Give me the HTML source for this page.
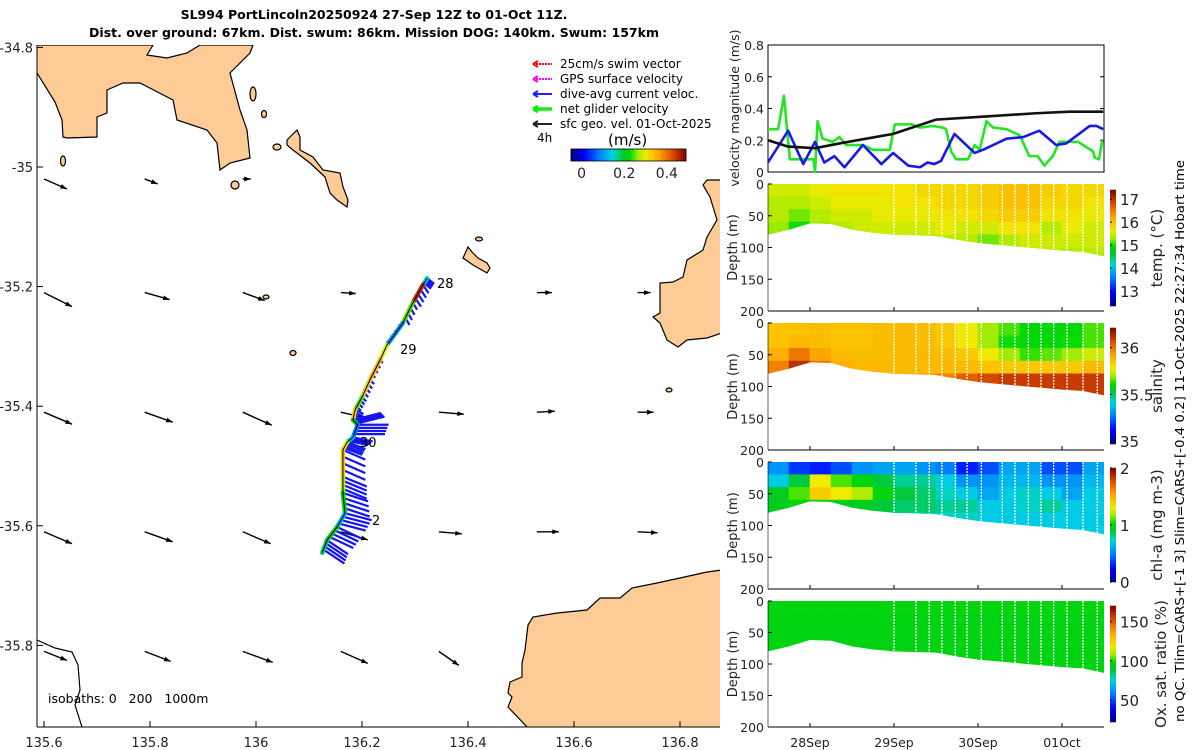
<!DOCTYPE html>
<html><head><meta charset="utf-8"><style>
html,body{margin:0;padding:0;background:#fff}
svg{display:block;font-family:"DejaVu Sans","Liberation Sans",sans-serif}
</style></head><body>
<svg id="fig" width="1200" height="750" viewBox="0 0 1200 750">
<g font-weight="bold" font-size="12.5" text-anchor="middle" fill="#000">
<text x="374" y="19">SL994 PortLincoln20250924 27-Sep 12Z to 01-Oct 11Z.</text>
<text x="374" y="37">Dist. over ground: 67km. Dist. swum: 86km. Mission DOG: 140km. Swum: 157km</text>
</g>
<defs><clipPath id="mapclip"><rect x="37" y="45" width="683" height="682"/></clipPath></defs>
<g id="map" clip-path="url(#mapclip)">
<g fill="#fccb96" stroke="#000" stroke-width="1.2">
<polygon points="30,45 153,45 147,55 167,58 187,53 200,45 253,45 250,53 230,73 240,110 247,130 250,158 230,163 220,170 217,143 207,130 177,120 173,100 140,83 123,83 107,90 107,113 97,117 97,137 67,138 63,137 62,120 55,102 37,73 30,65"/>
<polygon points="287,140 297,130 300,137 300,150 313,157 323,170 340,173 343,187 348,200 347,207 337,200 330,193 325,177 310,163 293,150 287,145"/>
<ellipse cx="253" cy="94" rx="3" ry="7"/>
<ellipse cx="264" cy="114" rx="2.5" ry="3.5"/>
<ellipse cx="277" cy="147" rx="4" ry="3"/>
<ellipse cx="63" cy="161" rx="2.5" ry="5"/>
<ellipse cx="235" cy="185" rx="4" ry="4"/>
<polygon points="468,247 463,258 473,265 487,273 490,268 487,263 478,258 472,252"/>
<ellipse cx="479" cy="239" rx="3.5" ry="2"/>
<ellipse cx="293" cy="353" rx="3" ry="2.5"/>
<ellipse cx="266" cy="297" rx="3" ry="2"/>
<polygon points="707,180 703,185 710,197 717,220 707,237 703,250 687,260 683,277 673,282 660,283 660,313 653,317 660,323 667,340 678,347 687,340 707,338 722,333 722,180"/>
<polygon points="530,730 508,707 512,697 508,693 510,682 522,677 522,663 525,650 528,625 533,617 557,613 587,610 600,598 620,598 632,588 657,583 680,578 707,572 722,570 722,730"/>
<ellipse cx="669" cy="390" rx="3" ry="2"/>
</g>
<polyline points="37,640 55,648 72,652 78,665 80,690 75,705 82,727" fill="none" stroke="#000" stroke-width="1.2"/>
<g id="arrows"></g>
<g id="track"></g>
<g font-size="13" fill="#000">
<text x="437" y="288">28</text>
<text x="400" y="354">29</text>
<text x="360" y="447">30</text>
<text x="372" y="525">2</text>
</g>
</g>
<g stroke="#000" fill="none">
<line x1="37" y1="45" x2="37" y2="727"/>
<line x1="37" y1="727" x2="720" y2="727"/>
</g>
<g id="mapticks" font-size="13" fill="#222"></g>
<text x="48" y="703" font-size="12.5" fill="#000" xml:space="preserve">isobaths: 0   200   1000m</text>
<g font-size="12" fill="#000">
<g stroke-width="2" fill="none">
<line x1="533" y1="64" x2="552" y2="64" stroke="#f00" stroke-dasharray="2,1"/>
<path d="M533,64 l5,-3 M533,64 l5,3" stroke="#f00"/>
<line x1="533" y1="79" x2="552" y2="79" stroke="#f0f" stroke-dasharray="2,1"/>
<path d="M533,79 l5,-3 M533,79 l5,3" stroke="#f0f"/>
<line x1="533" y1="94" x2="552" y2="94" stroke="#22f"/>
<path d="M533,94 l5,-3 M533,94 l5,3" stroke="#22f"/>
<line x1="533" y1="109" x2="552" y2="109" stroke="#1e1" stroke-width="3.5"/>
<path d="M533,109 l5,-3 M533,109 l5,3" stroke="#1e1" stroke-width="3"/>
<line x1="533" y1="124" x2="552" y2="124" stroke="#222"/>
<path d="M533,124 l5,-3 M533,124 l5,3" stroke="#222"/>
</g>
<text x="560" y="68">25cm/s swim vector</text>
<text x="560" y="83">GPS surface velocity</text>
<text x="560" y="98">dive-avg current veloc.</text>
<text x="560" y="113">net glider velocity</text>
<text x="560" y="128">sfc geo. vel. 01-Oct-2025</text>
<text x="537" y="142">4h</text>
<text x="608" y="145" font-size="15">(m/s)</text>
</g>
<g id="speedcb"></g>
<g id="right"></g>
<text transform="translate(1184,441) rotate(-90)" text-anchor="middle" font-size="12" textLength="562" lengthAdjust="spacingAndGlyphs" fill="#000">no QC. Tlim=CARS+[-1 3] Slim=CARS+[-0.4 0.2] 11-Oct-2025 22:27:34 Hobart time</text>
</svg>
<script>
// ---------- data ----------
const gridLons = [135.6, 135.79, 135.975, 136.16, 136.345, 136.53, 136.72];
const gridLats = [-35.02, -35.21, -35.41, -35.61, -35.81];
const geoU = [
 [0.23,0.13,0.08,null,null,null,null],
 [0.28,0.25,0.22,0.15,null,0.15,0.13],
 [0.28,0.28,0.29,0.26,0.25,0.18,0.16],
 [0.28,0.28,0.28,0.27,0.23,0.22,0.2],
 [0.23,0.26,0.3,0.27,0.2,null,null]];
const geoV = [
 [-0.1,-0.05,0,null,null,null,null],
 [-0.14,-0.07,-0.08,-0.01,null,0,0],
 [-0.12,-0.1,-0.13,-0.06,-0.02,0.01,0],
 [-0.12,-0.1,-0.12,-0.08,-0.02,0,-0.01],
 [-0.09,-0.1,-0.11,-0.12,-0.14,null,null]];
const trackLon = [136.323,136.315,136.296,136.277,136.247,136.234,136.215,136.2,136.187,136.183,136.192,136.183,136.172,136.164,136.164,136.164,136.168,136.153,136.134,136.125];
const trackLat = [-35.186,-35.197,-35.227,-35.261,-35.298,-35.323,-35.356,-35.385,-35.406,-35.423,-35.431,-35.452,-35.46,-35.473,-35.518,-35.545,-35.579,-35.602,-35.624,-35.645];
const trackSpeed = [0.15,0.45,0.25,0.1,0.3,0.35,0.33,0.25,0.33,0.2,0.08,0.15,0.3,0.33,0.28,0.22,0.12,0.22,0.18,0.2];
const dacU = [0.05,0.04,0.03,-0.03,-0.02,0.02,0.03,0.03,0.06,0.2,0.22,0.14,0.13,0.16,0.17,0.18,0.19,0.17,0.15,0.06];
const dacV = [-0.04,-0.06,-0.05,-0.02,-0.02,-0.02,-0.03,-0.03,-0.03,0.05,0.0,-0.03,-0.05,-0.07,-0.07,-0.06,-0.05,-0.08,-0.1,-0.1];
const lonTicks = [135.6,135.8,136,136.2,136.4,136.6,136.8];
const lonTickLabels = ["135.6","135.8","136","136.2","136.4","136.6","136.8"];
const latTicks = [-34.8,-35,-35.2,-35.4,-35.6,-35.8];
const latTickLabels = ["-34.8","-35","-35.2","-35.4","-35.6","-35.8"];
const greenT = [0,0.12,0.19,0.26,0.54,0.56,0.59,0.65,0.77,0.85,0.93,1.13,1.25,1.45,1.51,1.71,1.81,1.96,2.08,2.12,2.18,2.24,2.38,2.46,2.52,2.6,2.68,2.84,3.0,3.11,3.21,3.29,3.39,3.47,3.69,3.87,3.89,3.94,3.98];
const greenV = [0.27,0.27,0.48,0.08,0.08,0.0,0.32,0.21,0.19,0.22,0.17,0.17,0.14,0.14,0.3,0.3,0.28,0.29,0.28,0.27,0.13,0.08,0.08,0.17,0.14,0.32,0.28,0.27,0.23,0.1,0.1,0.04,0.1,0.19,0.19,0.13,0.09,0.08,0.2];
const blueT = [0,0.24,0.42,0.56,0.67,0.79,0.91,1.13,1.35,1.49,1.67,1.81,1.9,1.98,2.06,2.22,2.46,2.56,2.84,3.04,3.23,3.43,3.55,3.83,3.91,3.99];
const blueV = [0.06,0.26,0.05,0.19,0.06,0.1,0.03,0.17,0.05,0.12,0.04,0.03,0.06,0.05,0.07,0.24,0.12,0.14,0.21,0.22,0.26,0.17,0.18,0.29,0.29,0.27];
const blackT = [0,0.24,0.56,0.85,1.49,2.0,2.6,3.19,3.59,3.99];
const blackV = [0.2,0.16,0.15,0.18,0.24,0.33,0.35,0.37,0.38,0.38];
const velTicks = [0,0.2,0.4,0.6,0.8];
const velTickLabels = ["0","0.2","0.4","0.6","0.8"];
const dayTicks = [0.5,1.5,2.5,3.5];
const dayTickLabels = ["28Sep","29Sep","30Sep","01Oct"];
const depthTicks = [0,50,100,150,200];
const depthTickLabels = ["0","50","100","150","200"];
const bottomT = [0,0.25,0.5,0.75,1,1.25,1.5,1.75,2,2.25,2.5,2.75,3,3.25,3.5,3.75,4];
const bottomDepth = [80,72,62,63,72,77,80,81,82,88,93,96,99,102,105,107,114];
const gapTimes = [1.5,1.76,1.92,2.07,2.23,2.37,2.54,2.79,2.94,3.1,3.25,3.4,3.56,3.75,3.92];
const tempGrid = [
 [15.5,15.5,15.6,15.7,15.7,15.7,15.7,15.8,15.8,15.8,15.9,16.0,16.0,15.9,15.8,15.8],
 [15.4,15.4,15.5,15.6,15.6,15.6,15.7,15.7,15.8,15.8,15.9,16.0,16.0,15.8,15.8,15.7],
 [15.4,15.2,15.4,15.5,15.5,15.6,15.6,15.6,15.7,15.7,15.8,15.9,15.9,15.7,15.7,15.6],
 [15.3,15.0,15.3,15.4,15.5,15.5,15.5,15.5,15.6,15.5,15.5,15.7,15.7,15.4,15.6,15.5],
 [15.3,15.2,15.3,15.4,15.4,15.4,15.4,15.4,15.4,15.4,15.2,15.4,15.5,15.5,15.5,15.5],
 [15.4,15.4,15.4,15.4,15.4,15.4,15.4,15.4,15.4,15.4,15.4,15.4,15.4,15.4,15.4,15.4]];
const salGrid = [
 [35.86,35.86,35.87,35.86,35.86,35.87,35.88,35.87,35.85,35.78,35.7,35.65,35.6,35.6,35.6,35.65],
 [35.86,35.88,35.87,35.86,35.86,35.87,35.88,35.87,35.85,35.78,35.7,35.62,35.6,35.6,35.62,35.65],
 [35.9,36.0,35.92,35.88,35.87,35.87,35.88,35.88,35.87,35.85,35.78,35.7,35.64,35.66,35.7,35.74],
 [35.98,36.12,36.0,35.9,35.88,35.88,35.88,35.88,35.88,35.88,35.86,35.85,35.85,35.85,35.85,35.88],
 [35.95,36.02,35.98,35.92,35.9,35.9,35.9,35.92,35.98,36.04,36.08,36.1,36.1,36.1,36.1,36.1],
 [36.1,36.1,36.1,36.1,36.1,36.1,36.1,36.1,36.1,36.1,36.1,36.1,36.1,36.1,36.1,36.1]];
const chlGrid = [
 [0.55,0.35,0.3,0.4,0.55,0.6,0.6,0.55,0.5,0.3,0.4,0.6,0.6,0.4,0.4,0.6],
 [0.7,0.9,1.3,1.1,1.0,0.9,0.8,0.8,0.7,0.55,0.55,0.65,0.65,0.55,0.55,0.65],
 [0.95,1.1,1.4,1.3,1.2,1.0,0.9,0.85,0.75,0.7,0.6,0.7,0.75,0.7,0.6,0.7],
 [0.95,1.0,1.0,0.95,0.95,0.9,0.85,0.85,0.8,0.8,0.7,0.7,0.75,0.8,0.7,0.7],
 [0.9,0.9,0.9,0.9,0.9,0.85,0.8,0.8,0.75,0.75,0.7,0.7,0.7,0.7,0.7,0.7],
 [0.7,0.7,0.7,0.7,0.7,0.7,0.7,0.7,0.7,0.7,0.7,0.7,0.7,0.7,0.7,0.7]];
const oxGrid = [
 [96,96,96,96,96,96,96,96,96,96,96,96,96,96,96,96],
 [95,95,95,95,95,95,95,95,95,95,95,95,95,95,95,95],
 [95,95,95,95,95,95,95,95,95,95,95,95,95,95,95,95],
 [95,95,95,95,95,95,95,95,95,95,95,95,95,95,95,95],
 [95,95,95,95,95,95,95,95,95,95,95,95,95,95,95,95],
 [95,95,95,95,95,95,95,95,95,95,95,95,95,95,95,95]];
const tempCbTicks = [13,14,15,16,17];
const salCbTicks = [35,35.5,36];
const chlCbTicks = [0,1,2];
const oxCbTicks = [50,100,150];
const speedCbTicks = [0,0.2,0.4];

// ---------- helpers ----------
const NS = "http://www.w3.org/2000/svg";
function mk(tag, attrs, parent){const e=document.createElementNS(NS,tag);for(const k in attrs)e.setAttribute(k,attrs[k]);parent.appendChild(e);return e;}
const stops=[[0,[0,0,128]],[0.12,[0,0,255]],[0.25,[0,128,255]],[0.36,[0,210,225]],[0.46,[0,200,40]],[0.52,[0,220,0]],[0.58,[150,235,0]],[0.65,[240,235,0]],[0.76,[255,170,0]],[0.88,[225,80,0]],[1,[128,0,0]]];
function cmap(f){f=Math.max(0,Math.min(1,f));for(let i=1;i<stops.length;i++){if(f<=stops[i][0]){const a=stops[i-1],b=stops[i];const r=(f-a[0])/(b[0]-a[0]);const c=a[1].map((v,k)=>Math.round(v+(b[1][k]-v)*r));return `rgb(${c[0]},${c[1]},${c[2]})`;}}return "rgb(128,0,0)";}
const lonX = lon => 256 + (lon-136)*530;
const latY = lat => 167 + (-35-lat)*598;

const mt=document.getElementById('mapticks');
lonTicks.forEach((v,i)=>{const x=lonX(v);
 const l=mk('line',{x1:x,y1:727,x2:x,y2:721,stroke:'#000'},mt);
 
 
 const t=mk('text',{x:x,y:747,'text-anchor':'middle'},mt);t.textContent=lonTickLabels[i];
 
 });
latTicks.forEach((v,i)=>{const y=latY(v);
 const l=mk('line',{x1:37,y1:y,x2:43,y2:y,stroke:'#000'},mt);
 
 
 const t=mk('text',{x:33,y:y+5,'text-anchor':'end'},mt);t.textContent=latTickLabels[i];
 
 });

const ag=document.getElementById('arrows');
const geoScale=100;
gridLats.forEach((lat,r)=>gridLons.forEach((lon,c)=>{
 const u=geoU[r][c],v=geoV[r][c]; if(u===null)return;
 const x0=lonX(lon),y0=latY(lat),x1=x0+u*geoScale,y1=y0-v*geoScale;
 const ang=Math.atan2(y1-y0,x1-x0),h=7;
 const g=mk('g',{},ag);
 
 
 mk('line',{x1:x0,y1:y0,x2:x1,y2:y1,stroke:'#000','stroke-width':1.4},g);
 mk('polygon',{points:`${x1},${y1} ${x1-h*Math.cos(ang-0.35)},${y1-h*Math.sin(ang-0.35)} ${x1-h*Math.cos(ang+0.35)},${y1-h*Math.sin(ang+0.35)}`,fill:'#000'},g);
}));

const tg=document.getElementById('track');
const dacScale=140;
for(let i=0;i<trackLon.length-1;i++){
 for(let k=0;k<4;k++){
  const f=k/4;const x=lonX(trackLon[i]+(trackLon[i+1]-trackLon[i])*f),y=latY(trackLat[i]+(trackLat[i+1]-trackLat[i])*f);
  const l=mk('line',{x1:x,y1:y,x2:x+dacU[i]*dacScale,y2:y-dacV[i]*dacScale,stroke:'#1414f0','stroke-width':2.2},tg);
  
  
 }
}
for(let i=0;i<trackLon.length-1;i++){
 const s=mk('line',{x1:lonX(trackLon[i]),y1:latY(trackLat[i]),x2:lonX(trackLon[i+1]),y2:latY(trackLat[i+1]),stroke:cmap((trackSpeed[i]+0.05)/0.54),'stroke-width':4.5,'stroke-linecap':'round'},tg);
 
 
}
const tl=mk('polyline',{points:trackLon.map((v,i)=>lonX(v)+','+latY(trackLat[i])).join(' '),fill:'none',stroke:'#000','stroke-width':1},tg);



function vbar(parent,name,x,y0,y1,vmin,vmax,ticks,fmt){
 const g=mk('g',{},parent);
 
 
 const n=40,h=(y1-y0)/n;
 for(let i=0;i<n;i++) mk('rect',{x:x,y:y1-(i+1)*h-0.3,width:6,height:h+0.6,fill:cmap((i+0.5)/n)},g);
 ticks.forEach(t=>{const y=y1-(t-vmin)/(vmax-vmin)*(y1-y0);
  mk('line',{x1:x,y1:y,x2:x+2,y2:y,stroke:'#000'},g);
  const tx=mk('text',{x:x+10,y:y+6,'font-size':15,fill:'#222'},g);tx.textContent=fmt(t);
  
  });
}
(function(){const g=document.getElementById('speedcb');const x0=571,x1=686,n=40,w=(x1-x0)/n;
 for(let i=0;i<n;i++) mk('rect',{x:x0+i*w-0.3,y:149,width:w+0.6,height:12,fill:cmap((i+0.5)/n)},g);
 mk('rect',{x:x0,y:149,width:x1-x0,height:12,fill:'none',stroke:'#000','stroke-width':0.8},g);
 speedCbTicks.forEach(t=>{const x=x0+(t+0.05)/0.54*(x1-x0);
  const tx=mk('text',{x:x,y:178,'font-size':14,'text-anchor':'middle',fill:'#222'},g);tx.textContent=String(t);
  
  });})();

const R=document.getElementById('right');
const PX0=768,PX1=1104;
const tX=t=>PX0+t/4*(PX1-PX0);
(function(){const y0=45,y1=172;const vY=v=>y1-v/0.8*(y1-y0);
 const g=mk('g',{},R);
 
 
 mk('rect',{x:PX0,y:y0,width:PX1-PX0,height:y1-y0,fill:'#fff',stroke:'#000'},g);
 velTicks.forEach((v,i)=>{const y=vY(v);mk('line',{x1:PX0,y1:y,x2:PX0+4,y2:y,stroke:'#000'},g);mk('line',{x1:PX1,y1:y,x2:PX1-4,y2:y,stroke:'#000'},g);
  const tx=mk('text',{x:764,y:y+5,'text-anchor':'end','font-size':12.5,fill:'#222'},g);tx.textContent=velTickLabels[i];
  
  });
 const ser=[[greenT,greenV,'#22e622','green-net-speed'],[blueT,blueV,'#1a1ae6','blue-dac-speed'],[blackT,blackV,'#111','black-geo-speed']];
 ser.forEach(s=>{const p=mk('polyline',{points:s[0].map((t,i)=>tX(t)+','+vY(s[1][i])).join(' '),fill:'none',stroke:s[2],'stroke-width':2.6,'stroke-linejoin':'round'},g);
  
  });
 const yl=mk('text',{transform:'translate(739,108) rotate(-90)','text-anchor':'middle','font-size':12.5,fill:'#222'},g);yl.textContent='velocity magnitude (m/s)';
 
 
})();
function section(name,y0,y1,grid,vmin,vmax,cb,label,labelX,showDates,idx){
 const dY=d=>y0+d/200*(y1-y0);
 const g=mk('g',{},R);
 
 
 const cid='clip'+idx;
 const cp=mk('clipPath',{id:cid},g);
 mk('polygon',{points:[PX0+','+y0].concat(bottomT.map((t,i)=>tX(t)+','+dY(bottomDepth[i]))).concat([PX1+','+y0]).join(' ')},cp);
 const cells=mk('g',{'clip-path':`url(#${cid})`},g);
 grid.forEach((row,j)=>row.forEach((v,i)=>{
  const r=mk('rect',{x:tX(i*0.25)-0.3,y:dY(j*20)-0.3,width:tX(0.25)-PX0+0.6,height:dY(20)-y0+0.6,fill:cmap((v-vmin)/(vmax-vmin))},cells);
  
  }));
 gapTimes.forEach(t=>mk('line',{x1:tX(t),y1:y0,x2:tX(t),y2:y1,stroke:'#fff','stroke-width':1.3,'stroke-dasharray':'2,1'},cells));
 mk('line',{x1:PX0,y1:y1,x2:PX1,y2:y1,stroke:'#000'},g);
 mk('line',{x1:PX0,y1:y0,x2:PX0,y2:y1,stroke:'#000','stroke-width':0.6},g);
 depthTicks.forEach((d,i)=>{const y=dY(d);mk('line',{x1:PX0,y1:y,x2:PX0+4,y2:y,stroke:'#000'},g);
  const tx=mk('text',{x:764,y:y+5,'text-anchor':'end','font-size':12.5,fill:'#222'},g);tx.textContent=depthTickLabels[i];
  
  });
 dayTicks.forEach((t,i)=>{mk('line',{x1:tX(t),y1:y1,x2:tX(t),y2:y1-4,stroke:'#000'},g);
  if(showDates){const tx=mk('text',{x:tX(t),y:747,'text-anchor':'middle','font-size':12.5,fill:'#222'},g);tx.textContent=dayTickLabels[i];
  
  }});
 const yl=mk('text',{transform:`translate(737,${(y0+y1)/2}) rotate(-90)`,'text-anchor':'middle','font-size':13,fill:'#222'},g);yl.textContent='Depth (m)';
 
 
 vbar(g,name+'-colorbar',1110,cb[0],cb[1],cb[2],cb[3],cb[4],v=>String(v));
 const cl=mk('text',{transform:`translate(${labelX},${(cb[0]+cb[1])/2}) rotate(-90)`,'text-anchor':'middle','font-size':15,fill:'#222'},g);cl.textContent=label;
 
 
}
section('temperature-section',184,311,tempGrid,12.35,17.4,[190,306,12.35,17.4,tempCbTicks],'temp. (°C)',1162,false,1);
section('salinity-section',323,450,salGrid,34.97,36.21,[328,444,34.97,36.21,salCbTicks],'salinity',1162,false,2);
section('chlorophyll-section',462,589,chlGrid,0,2,[468,582,0,2,chlCbTicks],'chl-a (mg m-3)',1162,false,3);
section('oxygen-section',601,727,oxGrid,22,170,[606,722,22,170,oxCbTicks],'Ox. sat. ratio (%)',1166,true,4);
</script>
</body></html>
